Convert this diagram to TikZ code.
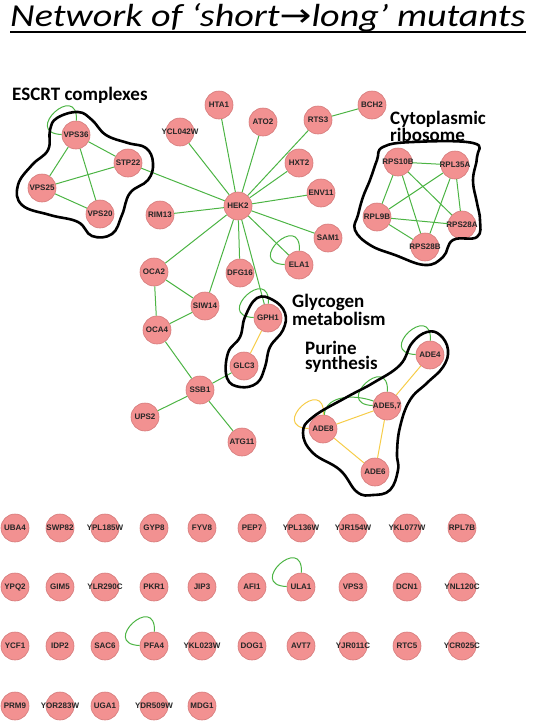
\documentclass[tikz,border=0pt]{standalone}
\usepackage{fontspec}
\newfontfamily\calibfont{Carlito}
\newfontfamily\genefont{Liberation Sans}
\newfontfamily\arrowfont{DejaVu Sans}
\definecolor{genefill}{RGB}{242,145,145}
\definecolor{geneline}{RGB}{212,122,122}
\definecolor{linkgreen}{RGB}{76,180,68}
\definecolor{linkyellow}{RGB}{246,204,72}
\newcommand{\gn}[1]{\makebox[0pt]{#1}}
\tikzset{
  gene/.style={circle, fill=genefill, draw=geneline, line width=0.6pt, minimum size=28pt, inner sep=0pt,
    font=\genefont\bfseries\fontsize{8}{8}\selectfont, text=black!85},
  glink/.style={draw=linkgreen, line width=1pt},
  ylink/.style={draw=linkyellow, line width=1pt},
  selfloop/.style={out=88, in=178, min distance=40pt},
  blob/.style={draw=black, line width=2.6pt, line join=round},
  grouplabel/.style={font=\calibfont\bfseries\fontsize{19}{12}\selectfont, inner sep=0pt, align=left},
}
\begin{document}
\begin{tikzpicture}[x=1pt, y=-1pt]
  \useasboundingbox (0,0) rectangle (537,721);

  \node[anchor=base west, inner sep=0pt] (title) at (10,26)
    {\scalebox{1.19}[1]{\calibfont\itshape\fontsize{32}{32}\selectfont Network of ‘short{\arrowfont →}long’ mutants}};
  \draw[line width=2pt] ([yshift=-6pt]title.base west) -- ([yshift=-6pt]title.base east);

  \node[grouplabel, anchor=north west] (escrtlabel) at (12,87) {ESCRT complexes};
  \node[grouplabel, anchor=north west] (ribolabel) at (390,111) {Cytoplasmic\\ribosome};
  \node[grouplabel, anchor=north west] (glylabel) at (292,294) {Glycogen\\metabolism};
  \node[grouplabel, anchor=north west] (purlabel) at (305,341) {Purine\\synthesis};

  \node[gene] (vps36) at (76,135) {\gn{VPS36}};
  \node[gene] (stp22) at (128,163) {\gn{STP22}};
  \node[gene] (vps25) at (42,188) {\gn{VPS25}};
  \node[gene] (vps20) at (100,214) {\gn{VPS20}};
  \node[gene] (rim13) at (160,215) {\gn{RIM13}};
  \node[gene] (ycl042w) at (180,132) {\gn{YCL042W}};
  \node[gene] (hta1) at (219,105) {\gn{HTA1}};
  \node[gene] (ato2) at (263,122) {\gn{ATO2}};
  \node[gene] (rts3) at (318,120) {\gn{RTS3}};
  \node[gene] (bch2) at (372,105) {\gn{BCH2}};
  \node[gene] (hxt2) at (299,163) {\gn{HXT2}};
  \node[gene] (env11) at (321,193) {\gn{ENV11}};
  \node[gene] (hek2) at (238,206) {\gn{HEK2}};
  \node[gene] (sam1) at (328,238) {\gn{SAM1}};
  \node[gene] (ela1) at (299,265) {\gn{ELA1}};
  \node[gene] (oca2) at (154,272) {\gn{OCA2}};
  \node[gene] (dfg16) at (240,273) {\gn{DFG16}};
  \node[gene] (siw14) at (205,306) {\gn{SIW14}};
  \node[gene] (oca4) at (157,330) {\gn{OCA4}};
  \node[gene] (gph1) at (268,318) {\gn{GPH1}};
  \node[gene] (glc3) at (244,366) {\gn{GLC3}};
  \node[gene] (ssb1) at (200,390) {\gn{SSB1}};
  \node[gene] (ups2) at (145,417) {\gn{UPS2}};
  \node[gene] (atg11) at (242,442) {\gn{ATG11}};

  \node[gene] (rps10b) at (398,162) {\gn{RPS10B}};
  \node[gene] (rpl35a) at (455,165) {\gn{RPL35A}};
  \node[gene] (rpl9b) at (377,217) {\gn{RPL9B}};
  \node[gene] (rps28a) at (462,225) {\gn{RPS28A}};
  \node[gene] (rps28b) at (425,247) {\gn{RPS28B}};

  \node[gene] (ade4) at (430,355) {\gn{ADE4}};
  \node[gene] (ade57) at (387,406) {\gn{ADE5,7}};
  \node[gene] (ade8) at (323,429) {\gn{ADE8}};
  \node[gene] (ade6) at (375,472) {\gn{ADE6}};

  \node[gene] (uba4) at (15,528) {\gn{UBA4}};
  \node[gene] (swp82) at (60,528) {\gn{SWP82}};
  \node[gene] (ypl185w) at (105,528) {\gn{YPL185W}};
  \node[gene] (gyp8) at (154,528) {\gn{GYP8}};
  \node[gene] (fyv8) at (202,528) {\gn{FYV8}};
  \node[gene] (pep7) at (252,528) {\gn{PEP7}};
  \node[gene] (ypl136w) at (301,528) {\gn{YPL136W}};
  \node[gene] (yjr154w) at (353,528) {\gn{YJR154W}};
  \node[gene] (ykl077w) at (407,528) {\gn{YKL077W}};
  \node[gene] (rpl7b) at (462,528) {\gn{RPL7B}};

  \node[gene] (ypq2) at (15,587) {\gn{YPQ2}};
  \node[gene] (gim5) at (60,587) {\gn{GIM5}};
  \node[gene] (ylr290c) at (105,587) {\gn{YLR290C}};
  \node[gene] (pkr1) at (154,587) {\gn{PKR1}};
  \node[gene] (jip3) at (202,587) {\gn{JIP3}};
  \node[gene] (afi1) at (252,587) {\gn{AFI1}};
  \node[gene] (ula1) at (301,587) {\gn{ULA1}};
  \node[gene] (vps3) at (353,587) {\gn{VPS3}};
  \node[gene] (dcn1) at (407,587) {\gn{DCN1}};
  \node[gene] (ynl120c) at (462,587) {\gn{YNL120C}};

  \node[gene] (ycf1) at (15,646) {\gn{YCF1}};
  \node[gene] (idp2) at (60,646) {\gn{IDP2}};
  \node[gene] (sac6) at (105,646) {\gn{SAC6}};
  \node[gene] (pfa4) at (154,646) {\gn{PFA4}};
  \node[gene] (ykl023w) at (202,646) {\gn{YKL023W}};
  \node[gene] (dog1) at (252,646) {\gn{DOG1}};
  \node[gene] (avt7) at (301,646) {\gn{AVT7}};
  \node[gene] (yjr011c) at (353,646) {\gn{YJR011C}};
  \node[gene] (rtc5) at (407,646) {\gn{RTC5}};
  \node[gene] (ycr025c) at (462,646) {\gn{YCR025C}};

  \node[gene] (prm9) at (15,706) {\gn{PRM9}};
  \node[gene] (yor283w) at (60,706) {\gn{YOR283W}};
  \node[gene] (uga1) at (105,706) {\gn{UGA1}};
  \node[gene] (ydr509w) at (154,706) {\gn{YDR509W}};
  \node[gene] (mdg1) at (202,706) {\gn{MDG1}};

  \draw[glink] (vps36) -- (stp22);
  \draw[glink] (vps36) -- (vps25);
  \draw[glink] (vps36) -- (vps20);
  \draw[glink] (stp22) -- (vps25);
  \draw[glink] (vps25) -- (vps20);
  \draw[glink] (stp22) -- (hek2);
  \draw[glink] (vps36) to[selfloop] (vps36);

  \draw[glink] (hek2) -- (ycl042w);
  \draw[glink] (hek2) -- (hta1);
  \draw[glink] (hek2) -- (ato2);
  \draw[glink] (hek2) -- (rts3);
  \draw[glink] (rts3) -- (bch2);
  \draw[glink] (hek2) -- (hxt2);
  \draw[glink] (hek2) -- (env11);
  \draw[glink] (hek2) -- (sam1);
  \draw[glink] (hek2) -- (ela1);
  \draw[glink] (hek2) -- (rim13);
  \draw[glink] (hek2) -- (oca2);
  \draw[glink] (hek2) -- (siw14);
  \draw[glink] (hek2) -- (dfg16);
  \draw[glink] (hek2) -- (gph1);
  \draw[glink] (ela1) to[selfloop] (ela1);

  \draw[glink] (oca2) -- (siw14);
  \draw[glink] (oca2) -- (oca4);
  \draw[glink] (oca4) -- (siw14);
  \draw[glink] (oca4) -- (ssb1);
  \draw[glink] (ssb1) -- (glc3);
  \draw[glink] (ssb1) -- (ups2);
  \draw[glink] (ssb1) -- (atg11);
  \draw[ylink] (gph1) -- (glc3);
  \draw[glink] (gph1) to[selfloop] (gph1);

  \draw[glink] (rps10b) -- (rpl35a);
  \draw[glink] (rps10b) -- (rpl9b);
  \draw[glink] (rps10b) -- (rps28b);
  \draw[glink] (rps10b) -- (rps28a);
  \draw[glink] (rpl35a) -- (rpl9b);
  \draw[glink] (rpl35a) -- (rps28a);
  \draw[glink] (rpl35a) -- (rps28b);
  \draw[glink] (rpl9b) -- (rps28a);
  \draw[glink] (rpl9b) -- (rps28b);

  \draw[ylink] (ade4) -- (ade57);
  \draw[ylink] (ade57) -- (ade8);
  \draw[ylink] (ade57) -- (ade6);
  \draw[ylink] (ade8) -- (ade6);
  \draw[glink] (ade8) to[out=85, in=160] (ade57);
  \draw[glink] (ade4) to[selfloop] (ade4);
  \draw[glink] (ade57) to[selfloop] (ade57);
  \draw[ylink] (ade8) to[selfloop] (ade8);

  \draw[glink] (ula1) to[selfloop] (ula1);
  \draw[glink] (pfa4) to[selfloop] (pfa4);

  \draw[blob] plot[smooth cycle, tension=0.7] coordinates {
    (57,118) (78,112) (92,120) (106,135) (128,143) (146,148) (153,163) (148,180)
    (130,193) (122,215) (112,234) (92,236) (78,222) (50,215) (22,205) (18,185)
    (32,165) (48,150) (50,130)};
  \draw[blob] plot[smooth cycle, tension=0.7] coordinates {
    (383,147) (413,142) (473,143) (477,157) (473,180) (477,203) (480,220) (477,237)
    (453,240) (443,257) (425,265) (395,255) (370,245) (355,230) (358,215) (363,197)
    (370,180) (377,160)};
  \draw[blob] plot[smooth cycle, tension=0.7] coordinates {
    (257,298) (273,300) (285,313) (283,330) (270,347) (265,367) (257,383) (240,387)
    (227,378) (228,353) (240,337) (245,317)};
  \draw[blob] plot[smooth cycle, tension=0.7] coordinates {
    (427,332) (440,335) (448,350) (443,367) (427,383) (410,400) (400,427) (397,453)
    (398,470) (390,490) (373,495) (357,492) (340,470) (313,453) (303,433) (313,417)
    (347,397) (373,383) (400,365) (412,343)};
\end{tikzpicture}
\end{document}
